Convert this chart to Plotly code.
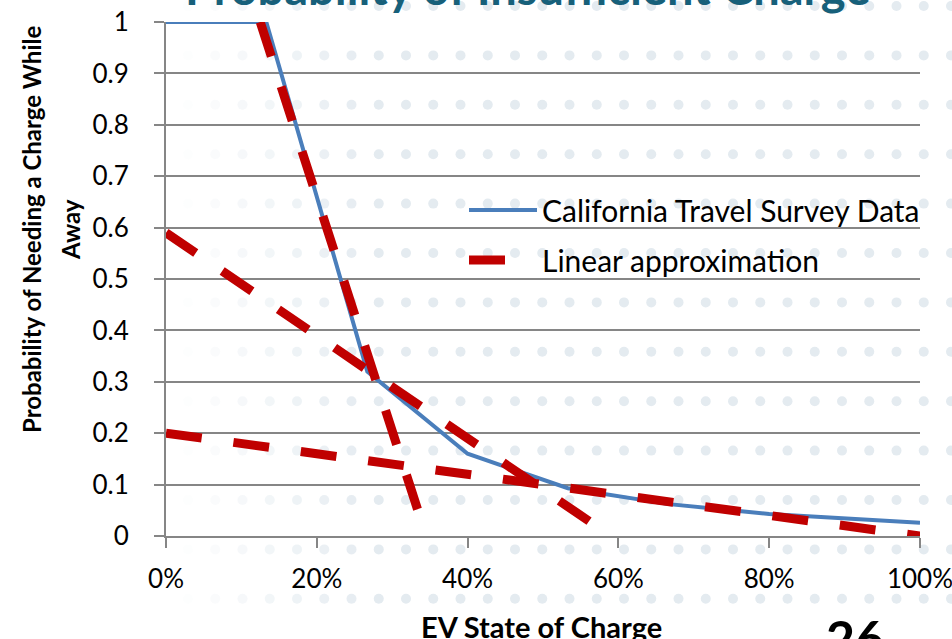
import plotly.graph_objects as go
import numpy as np

# ---- data ----
soc_survey = [0.0, 0.133, 0.267, 0.40, 0.533, 0.667, 0.80, 0.933, 1.0]
p_survey = [1.0, 1.0, 0.32, 0.16, 0.093, 0.062, 0.043, 0.032, 0.026]

# linear approximation segments (None separates segments)
soc_linear = [0.125, 0.345, None, 0.0, 0.59, None, 0.0, 1.0]
p_linear = [1.0, 0.0, None, 0.59, 0.0, None, 0.20, 0.0]

y_ticks = [0, 0.1, 0.2, 0.3, 0.4, 0.5, 0.6, 0.7, 0.8, 0.9, 1]
y_ticktext = ["0", "0.1", "0.2", "0.3", "0.4", "0.5", "0.6", "0.7", "0.8", "0.9", "1"]
x_ticks = [0, 0.2, 0.4, 0.6, 0.8, 1.0]
x_ticktext = ["0%", "20%", "40%", "60%", "80%", "100%"]

W, H = 952, 639
L, R, T, B = 166, 32, 22, 103
PW, PH = W - L - R, H - T - B

FONT = "Lato"

fig = go.Figure()
fig.add_trace(go.Scatter(
    x=soc_survey, y=p_survey, mode="lines",
    name="California Travel Survey Data",
    line=dict(color="#4a7ebb", width=4),
    legendgroup="a",
))
fig.add_trace(go.Scatter(
    x=soc_linear, y=p_linear, mode="lines",
    name="Linear approximation",
    line=dict(color="#c00000", width=9, dash="36px,32px"),
    connectgaps=False,
    legendgroup="b",
))

# ---- decorative dotted slide background ----
def px2paper(px, py):
    return (px - L) / PW, (T + PH - py) / PH

shapes = []
for j in range(13):
    py = 6 + 49.4 * j
    for k in range(-1, 29):
        px = 188 + 27.25 * k
        a = np.clip((px - 175) / 200.0, 0, 1)
        if a <= 0:
            continue
        xp, yp = px2paper(px, py)
        shapes.append(dict(
            type="circle", xref="paper", yref="paper",
            xsizemode="pixel", ysizemode="pixel",
            xanchor=xp, yanchor=yp, x0=-5, x1=5, y0=-5, y1=5,
            fillcolor=f"rgba(228,235,240,{a:.2f})", line=dict(width=0),
            layer="below",
        ))

axis_col = "#868686"
lx, ly = px2paper(464, 184)
fig.update_layout(
    width=W, height=H,
    margin=dict(l=L, r=R, t=T, b=B, autoexpand=False),
    paper_bgcolor="white", plot_bgcolor="rgba(0,0,0,0)",
    shapes=shapes,
    font=dict(family=FONT, color="black"),
    showlegend=True,
    legend=dict(
        x=lx, y=ly, xanchor="left", yanchor="top",
        bgcolor="rgba(0,0,0,0)", font=dict(size=30, family=FONT, color="black"),
        tracegroupgap=8, itemwidth=68,
    ),
    xaxis=dict(
        range=[0, 1], tickvals=x_ticks, ticktext=x_ticktext,
        showgrid=False, zeroline=False, automargin=False,
        showline=True, linecolor=axis_col, linewidth=2,
        ticks="outside", ticklen=10, tickwidth=2, tickcolor=axis_col,
        tickfont=dict(size=26, family=FONT, color="black"),
        ticklabelstandoff=9, ticklabeloverflow="allow",
    ),
    yaxis=dict(
        range=[0, 1], tickvals=y_ticks, ticktext=y_ticktext,
        showgrid=True, gridcolor=axis_col, gridwidth=2,
        zeroline=False, automargin=False,
        showline=True, linecolor=axis_col, linewidth=2,
        ticks="outside", ticklen=10, tickwidth=2, tickcolor=axis_col,
        tickfont=dict(size=26, family=FONT, color="black"),
        ticklabelstandoff=20, ticklabeloverflow="allow",
    ),
)

ann = []
# title (cut off at the top of the crop)
tx, ty = px2paper(527, -13)
ann.append(dict(text="<b>Probability of Insufficient Charge</b>", xref="paper", yref="paper",
                x=tx, y=ty, xanchor="center", yanchor="middle", showarrow=False,
                font=dict(size=47, family=FONT, color="#17607a")))
# y axis title (two lines)
ax, ay = px2paper(31, 230)
ann.append(dict(text="<b>Probability of Needing a Charge While</b>", xref="paper", yref="paper",
                x=ax, y=ay, xanchor="center", yanchor="middle", textangle=-90, showarrow=False,
                font=dict(size=24, family=FONT, color="black")))
ax2, ay2 = px2paper(70, 230)
ann.append(dict(text="<b>Away</b>", xref="paper", yref="paper",
                x=ax2, y=ay2, xanchor="center", yanchor="middle", textangle=-90, showarrow=False,
                font=dict(size=24, family=FONT, color="black")))
# x axis title
xx, xy = px2paper(541, 626)
ann.append(dict(text="<b>EV State of Charge</b>", xref="paper", yref="paper",
                x=xx, y=xy, xanchor="center", yanchor="middle", showarrow=False,
                font=dict(size=29, family=FONT, color="black")))
# slide number
sx, sy = px2paper(855, 638)
ann.append(dict(text="<b>26</b>", xref="paper", yref="paper",
                x=sx, y=sy, xanchor="center", yanchor="middle", showarrow=False,
                font=dict(size=50, family=FONT, color="black")))
fig.update_layout(annotations=ann)

fig.write_html(
    "out.html",
    config={"displayModeBar": False},
    post_script="document.body.style.margin='0px';document.body.style.overflow='hidden';",
)
